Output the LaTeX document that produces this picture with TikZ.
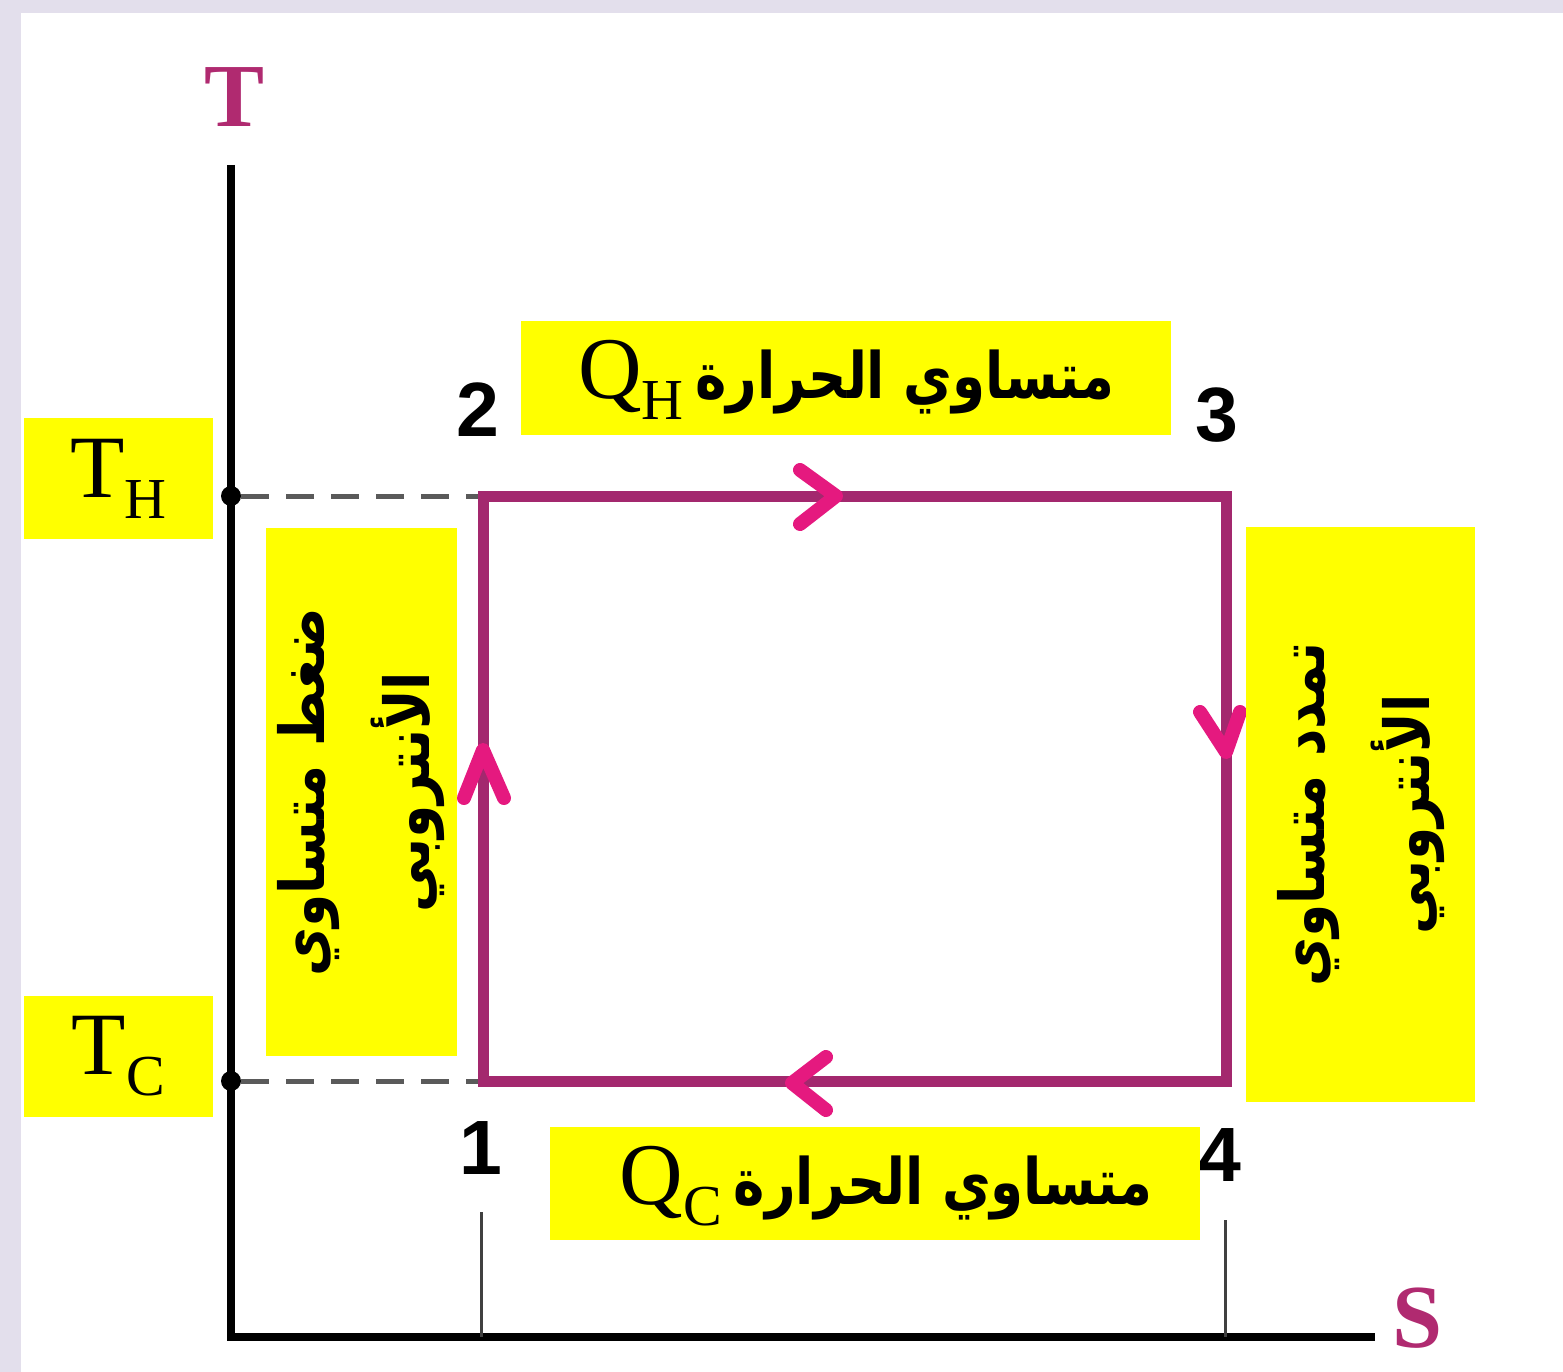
\documentclass[tikz,border=0pt]{standalone}
\usepackage{graphicx}
\usepackage{fontspec}
\setmainfont{Liberation Serif}
\newfontfamily\arabicfont[Script=Arabic]{DejaVu Sans}
\newfontfamily\ptfont{Liberation Sans}
\TeXXeTstate=1
\definecolor{lavbg}{HTML}{E3DFEC}
\definecolor{yellowc}{HTML}{FFFF00}
\definecolor{cyclec}{HTML}{A3286E}
\definecolor{chevc}{HTML}{E5197F}
\definecolor{axc}{HTML}{B02A70}
\definecolor{dashc}{HTML}{5A5A5A}
\tikzset{
  ybox/.style={fill=yellowc, inner sep=0pt, text=black},
  axisline/.style={line width=8pt, black},
  cycline/.style={line width=11pt, cyclec, line join=miter},
  chev/.style={line width=14pt, chevc, line cap=round, line join=round},
  dashline/.style={line width=5pt, dashc, dash pattern=on 28pt off 17pt},
  dotnode/.style={circle, fill=black, inner sep=0pt, minimum size=20pt},
  ptlabel/.style={font=\ptfont\bfseries\fontsize{77}{77}\selectfont, inner sep=0pt},
  axlabel/.style={text=axc, inner sep=0pt, font=\bfseries\fontsize{90}{90}\selectfont},
  tickline/.style={line width=3pt, black!75},
  arfont/.style={font=\arabicfont\bfseries\fontsize{62}{105}\selectfont},
}
\newcommand{\subH}[1]{{\fontsize{58}{58}\selectfont\raisebox{-21pt}{#1}}}
\newcommand{\arline}[1]{\scalebox{0.86}[1]{\beginR #1\endR}}
\newcommand{\qtext}[1]{{\fontsize{88}{88}\selectfont Q\subH{#1}}\hspace{12pt}{\arabicfont\bfseries\fontsize{64}{64}\selectfont\scalebox{0.83}[1]{\beginR متساوي الحرارة\endR}}}
\begin{document}
\begin{tikzpicture}[x=1pt,y=-1pt]
\fill[lavbg] (0,0) rectangle (1563,1372);
\fill[white] (21,13) rectangle (1563,1372);
\useasboundingbox (0,0) rectangle (1563,1372);

% axes
\coordinate (Ttop) at (231,165);
\coordinate (O) at (231,1337);
\coordinate (Send) at (1375,1337);
\draw[axisline] (Ttop) -- (O) -- (Send);
\node[axlabel] (Tlab) at (235,97) {T};
\node[axlabel] (Slab) at (1418,1318) {S};

% cycle corners
\coordinate (p1) at (483,1081);
\coordinate (p2) at (483,496);
\coordinate (p3) at (1226,496);
\coordinate (p4) at (1226,1081);

% dots and dashed lines
\node[dotnode] (dH) at (231,496) {};
\node[dotnode] (dC) at (231,1081) {};
\draw[dashline] (dH.east) -- (p2);
\draw[dashline] (dC.east) -- (p1);

% tick lines
\coordinate (t1a) at (481,1212);
\coordinate (t1b) at (481,1337);
\coordinate (t4a) at (1225,1220);
\coordinate (t4b) at (1225,1337);
\draw[tickline] (t1a) -- (t1b);
\draw[tickline] (t4a) -- (t4b);

% cycle
\draw[cycline] (p1) -- (p2) -- (p3) -- (p4) -- cycle;

% chevrons
\draw[chev] (800,470) -- (836,496) -- (800,524);
\draw[chev] (1200,712) -- (1226,752) -- (1240,712);
\draw[chev] (464,798) -- (483,750) -- (504,798);
\draw[chev] (826,1057) -- (792,1083) -- (826,1110);

% point labels
\node[ptlabel] (n1) at (481,1148) {1};
\node[ptlabel] (n2) at (478,410) {2};
\node[ptlabel] (n3) at (1217,415) {3};
\node[ptlabel] (n4) at (1220,1155) {4};

% yellow boxes
\node[ybox, minimum width=189pt, minimum height=121pt] (TH) at (118.5,478.5)
  {\fontsize{89}{89}\selectfont T\subH{H}};
\node[ybox, minimum width=189pt, minimum height=121pt] (TC) at (118.5,1056.5)
  {\fontsize{89}{89}\selectfont T\subH{C}};

\node[ybox, minimum width=650pt, minimum height=114pt] (QH) at (846,378) {};
\node[inner sep=0pt] (QHt) at (846,380) {\qtext{H}};
\node[ybox, minimum width=650pt, minimum height=113pt] (QC) at (875,1183.5) {};
\node[inner sep=0pt] (QCt) at (886,1186) {\qtext{C}};

\node[ybox, minimum width=191pt, minimum height=528pt] (Lbox) at (361.5,792) {};
\node[arfont, rotate=90, align=center, inner sep=0pt] (Ltext) at (Lbox.center)
  {\arline{ضغط متساوي}\\\arline{الأنتروبي}};

\node[ybox, minimum width=229pt, minimum height=575pt] (Rbox) at (1360.5,814.5) {};
\node[arfont, rotate=90, align=center, inner sep=0pt] (Rtext) at (Rbox.center)
  {\arline{تمدد متساوي}\\\arline{الأنتروبي}};
\end{tikzpicture}
\end{document}
